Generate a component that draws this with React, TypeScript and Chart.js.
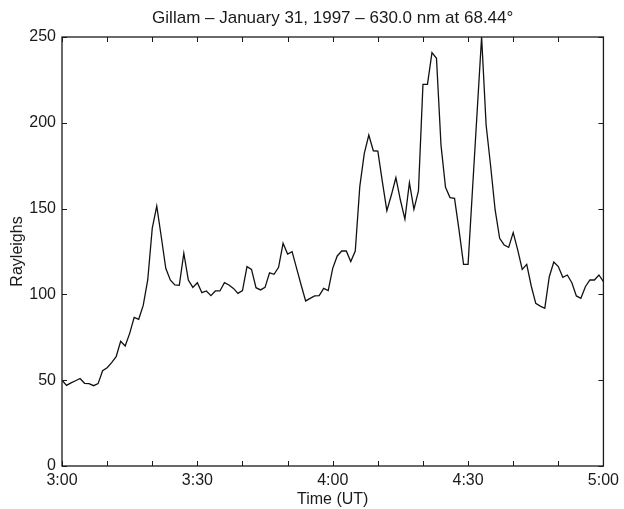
import React, { useEffect, useRef } from "react";
import { Chart, registerables } from "chart.js";

Chart.register(...registerables);

const TITLE = "Gillam \u2013 January 31, 1997 \u2013 630.0 nm at 68.44\u00B0";
const X_TITLE = "Time (UT)";
const Y_TITLE = "Rayleighs";
const START_HOUR = 3;
const X_MIN = 0;
const X_MAX = 120;
const X_MINOR_STEP = 10;
const X_LABEL_STEP = 30;
const Y_MIN = 0;
const Y_MAX = 250;
const Y_STEP = 50;

// Rayleighs sampled once per minute from 3:00 UT
const rayleighs = [
  50, 47, 48.4, 49.7, 51, 48.2, 48, 46.8, 48, 55.5,
  57.3, 60.2, 63.7, 72.7, 69.9, 77.3, 86.6, 85.5, 93.6, 108.4,
  138.5, 151.5, 133.6, 115.2, 108.4, 105.5, 105.3, 124, 108.4, 104.1,
  106.8, 101, 102, 99.3, 102, 102, 106.8, 105.5, 103.5, 100.6,
  102.2, 116.2, 114.6, 103.9, 102.6, 104.1, 112.6, 111.7, 115.8, 129.8,
  123.5, 124.9, 115.2, 105.5, 96.2, 97.7, 99.1, 99.3, 103.5, 102.2,
  115.2, 122.4, 125.3, 125.3, 119.1, 125.3, 162.8, 182.2, 192.9, 183.7,
  183.5, 165.7, 148.8, 157.9, 168, 155, 143.9, 165.1, 149.6, 160.3,
  222.4, 222.4, 240.9, 237.6, 187, 162.4, 156.4, 156, 137.5, 117.5,
  117.5, 162, 206, 250, 198.7, 174.8, 149.2, 132.7, 128.8, 127.4,
  136, 125.9, 114.6, 117.5, 104.9, 94.8, 93.2, 91.9, 110.3, 118.9,
  116.2, 110, 111.3, 106.8, 99.1, 97.7, 104.5, 108.4, 108.4, 111.3,
  107.4,
];

const FONT = "'Liberation Sans', Arial, Helvetica, sans-serif";
const INK = "#1a1a1a";

function fmtTime(min: number): string {
  const h = START_HOUR + Math.floor(min / 60);
  const m = Math.round(min % 60);
  return `${h}:${m < 10 ? "0" : ""}${m}`;
}

const boxPlugin = {
  id: "matlabBox",
  afterDraw(chart: any) {
    const { ctx, chartArea: a, scales } = chart;
    const xs = scales.x;
    const ys = scales.y;
    const tl = 5;
    ctx.save();
    ctx.strokeStyle = INK;
    ctx.lineWidth = 1.3;
    ctx.strokeRect(a.left, a.top, a.right - a.left, a.bottom - a.top);
    ctx.lineWidth = 1;
    ctx.beginPath();
    for (let v = X_MIN; v <= X_MAX; v += X_MINOR_STEP) {
      const px = Math.round(xs.getPixelForValue(v)) + 0.5;
      ctx.moveTo(px, a.bottom);
      ctx.lineTo(px, a.bottom - tl);
      ctx.moveTo(px, a.top);
      ctx.lineTo(px, a.top + tl);
    }
    for (let v = Y_MIN; v <= Y_MAX; v += Y_STEP) {
      const py = Math.round(ys.getPixelForValue(v)) + 0.5;
      ctx.moveTo(a.left, py);
      ctx.lineTo(a.left + tl, py);
      ctx.moveTo(a.right, py);
      ctx.lineTo(a.right - tl, py);
    }
    ctx.stroke();
    ctx.restore();
  },
};

export default function App() {
  const ref = useRef<HTMLCanvasElement | null>(null);
  useEffect(() => {
    if (!ref.current) return;
    const chart = new Chart(ref.current, {
      type: "line",
      data: {
        datasets: [
          {
            data: rayleighs.map((v, i) => ({ x: i, y: v })),
            borderColor: "#111",
            borderWidth: 1.3,
            pointRadius: 0,
            tension: 0,
            fill: false,
          },
        ],
      },
      options: {
        animation: false,
        responsive: false,
        events: [],
        layout: { padding: { left: 0, right: 19, top: 0, bottom: 0 } },
        plugins: {
          legend: { display: false },
          tooltip: { enabled: false },
          title: {
            display: true,
            text: TITLE,
            fullSize: false,
            color: INK,
            font: { family: FONT, size: 17, weight: "normal" },
            padding: { top: 8, bottom: 8.6 },
          },
        },
        scales: {
          x: {
            type: "linear",
            min: X_MIN,
            max: X_MAX,
            grid: { display: false, drawTicks: false },
            border: { display: false },
            afterFit(scale: any) {
              scale.height = 43;
            },
            ticks: {
              stepSize: X_MINOR_STEP,
              autoSkip: false,
              maxRotation: 0,
              color: INK,
              padding: 5,
              font: { family: FONT, size: 16 },
              callback: (v: any) =>
                Number(v) % X_LABEL_STEP === 0 ? fmtTime(Number(v)) : "",
            },
            title: {
              display: true,
              text: X_TITLE,
              color: INK,
              font: { family: FONT, size: 16 },
              padding: { top: 0, bottom: 0 },
            },
          },
          y: {
            min: Y_MIN,
            max: Y_MAX,
            grid: { display: false, drawTicks: false },
            border: { display: false },
            afterFit(scale: any) {
              scale.width = 62;
            },
            ticks: {
              stepSize: Y_STEP,
              color: INK,
              padding: 6,
              font: { family: FONT, size: 16 },
            },
            title: {
              display: true,
              text: Y_TITLE,
              color: INK,
              font: { family: FONT, size: 16 },
              padding: { top: 8, bottom: 0 },
            },
          },
        },
      },
      plugins: [boxPlugin],
    });
    return () => chart.destroy();
  }, []);
  return (
    <div style={{ position: "fixed", left: 0, top: 0, width: 624, height: 509, background: "#fff" }}>
      <canvas ref={ref} width={624} height={509} />
    </div>
  );
}
